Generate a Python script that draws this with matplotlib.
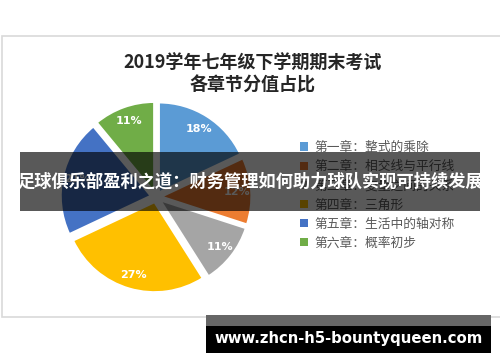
import matplotlib
matplotlib.use("Agg")
import matplotlib.pyplot as plt
from matplotlib.patches import Rectangle

plt.rcParams['font.family'] = ['Noto Sans CJK SC', 'DejaVu Sans']

title = "2019学年七年级下学期期末考试\n各章节分值占比"
chapters = ["第一章：整式的乘除", "第二章：相交线与平行线", "第三章：变量之间的关系",
            "第四章：三角形", "第五章：生活中的轴对称", "第六章：概率初步"]
shares = [18, 12, 11, 27, 21, 11]
colors = ["#5B9BD5", "#ED7D31", "#A5A5A5", "#FFC000", "#4472C4", "#70AD47"]
banner_text = "足球俱乐部盈利之道：财务管理如何助力球队实现可持续发展"
watermark = "www.zhcn-h5-bountyqueen.com"

W, H = 500, 362
fig = plt.figure(figsize=(W / 100, H / 100), dpi=100)
fig.patch.set_facecolor("white")

# background / card axes in pixel coords
bg = fig.add_axes([0, 0, 1, 1], zorder=0)
bg.set_xlim(0, W); bg.set_ylim(H, 0); bg.axis("off")
bg.add_patch(Rectangle((2, 36), 500, 281, facecolor="white", edgecolor="#D9D9D9", lw=1.2))
bg.text(253, 74, title, ha="center", va="center", fontsize=13, fontweight="bold",
        color="#262626", linespacing=1.15)

# pie axes
cx, cy, R = 156, 197, 90
half = 1.1 * R
pie_ax = fig.add_axes([(cx - half) / W, (H - cy - half) / H, 2 * half / W, 2 * half / H], zorder=1)
wedges, texts, autotexts = pie_ax.pie(
    shares, colors=colors, startangle=90, counterclock=False,
    explode=[0.06] * len(shares), autopct="%d%%", pctdistance=0.84,
    wedgeprops=dict(edgecolor="white", linewidth=1.5),
    textprops=dict(color="white", fontsize=8, fontweight="bold", family="DejaVu Sans"))
pie_ax.set_xlim(-1.1, 1.1); pie_ax.set_ylim(-1.1, 1.1)
pie_ax.set_aspect("equal")

leg = pie_ax.legend(wedges, chapters, loc="upper left",
                    bbox_to_anchor=(300 / W, 1 - 141 / H), bbox_transform=fig.transFigure,
                    frameon=False, fontsize=9.2, handlelength=0.6, handleheight=0.6,
                    handletextpad=0.5, labelspacing=0.48, borderpad=0, borderaxespad=0)
for t in leg.get_texts():
    t.set_color("#595959")
for h in leg.legend_handles:
    h.set_edgecolor("none")

# overlay axes
ov = fig.add_axes([0, 0, 1, 1], zorder=3)
ov.set_xlim(0, W); ov.set_ylim(H, 0); ov.axis("off")
ov.patch.set_alpha(0)
ov.add_patch(Rectangle((20, 152), 460, 59, facecolor="black", alpha=0.65, lw=0))
ov.text(250, 182, banner_text, ha="center", va="center", fontsize=12.4,
        fontweight="bold", color="white")
ov.add_patch(Rectangle((206, 315), 285, 11, facecolor="#666666", lw=0))
ov.add_patch(Rectangle((206, 326), 285, 27, facecolor="black", lw=0))
ov.text(348.5, 338, watermark, ha="center", va="center", fontsize=10.7,
        fontweight="bold", color="white", family="DejaVu Sans")

fig.savefig("out.png", dpi=100)
